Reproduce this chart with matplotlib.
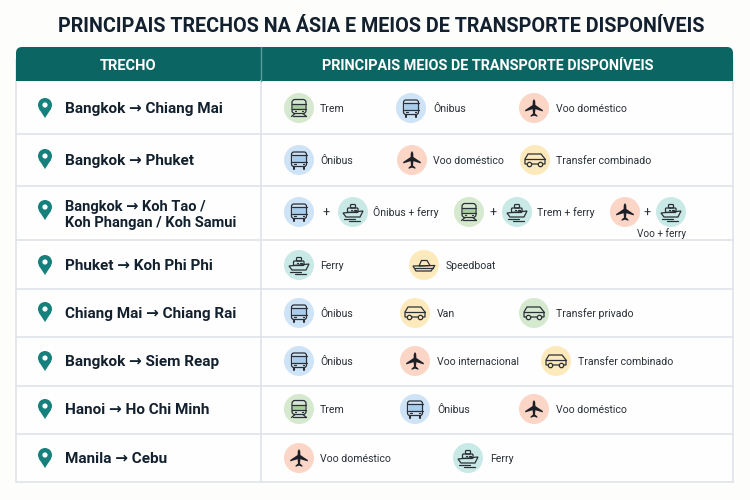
import matplotlib
matplotlib.use('Agg')
import matplotlib.pyplot as plt
from matplotlib.patches import Circle, FancyBboxPatch, Polygon, Rectangle, PathPatch
from matplotlib.path import Path

plt.rcParams['font.family'] = ['Roboto', 'DejaVu Sans']

title = 'PRINCIPAIS TRECHOS NA ÁSIA E MEIOS DE TRANSPORTE DISPONÍVEIS'
col_headers = ['TRECHO', 'PRINCIPAIS MEIOS DE TRANSPORTE DISPONÍVEIS']
routes = ['Bangkok → Chiang Mai', 'Bangkok → Phuket', 'Bangkok → Koh Tao /\nKoh Phangan / Koh Samui',
          'Phuket → Koh Phi Phi', 'Chiang Mai → Chiang Rai', 'Bangkok → Siem Reap',
          'Hanoi → Ho Chi Minh', 'Manila → Cebu']
row_modes = [['train', 'bus', 'plane'], ['bus', 'plane', 'van'], ['bus', 'ferry', 'train', 'ferry', 'plane', 'ferry'],
             ['ferry', 'boat'], ['bus', 'van', 'van_green'], ['bus', 'plane', 'van'],
             ['train', 'bus', 'plane'], ['plane', 'ferry']]
row_labels = [['Trem', 'Ônibus', 'Voo doméstico'], ['Ônibus', 'Voo doméstico', 'Transfer combinado'],
              ['Ônibus + ferry', 'Trem + ferry', 'Voo + ferry'], ['Ferry', 'Speedboat'],
              ['Ônibus', 'Van', 'Transfer privado'], ['Ônibus', 'Voo internacional', 'Transfer combinado'],
              ['Trem', 'Ônibus', 'Voo doméstico'], ['Voo doméstico', 'Ferry']]

# layout, in pixels of the 750x500 picture
row_edges = [81, 134, 186, 240, 289, 337, 386, 434, 482]
row_y = [108, 160, 212, 265, 313, 361, 409, 458]
pin_y = [108, 159, 210, 265, 312, 361, 409, 458]
icon_x = [[299, 411, 534], [299, 412, 535], [299, 353, 469, 517, 625, 671], [299, 424],
          [299, 415, 534], [299, 415, 556], [299, 415, 534], [299, 468]]
label_x = [[320, 433, 556], [320, 433, 556], [373, 537, 662], [320, 446],
           [320, 437, 556], [320, 437, 578], [320, 437, 556], [320, 490]]
plus_x = [326, 493, 647]

TEAL = '#0b6663'
INK = '#13202e'
LINE = '#dfe3e8'
ICON = '#2b3038'
bg = {'train': '#d5e9cf', 'bus': '#cfe3f6', 'plane': '#fbd5c6', 'ferry': '#c9e9e6',
      'boat': '#fdeabc', 'van': '#fdeabc', 'van_green': '#d5e9cf'}

fig = plt.figure(figsize=(7.5, 5), dpi=100, facecolor='#fdfdfc')
ax = fig.add_axes([0, 0, 1, 1])
ax.set_xlim(0, 750)
ax.set_ylim(500, 0)
ax.axis('off')


def box(x, y, w, h, r=1.5):
    ax.add_patch(FancyBboxPatch((x, y), w, h, boxstyle=f'round,pad=0,rounding_size={r}',
                                fc='none', ec=ICON, lw=0.9, zorder=4))


def seg(xs, ys, lw=0.9):
    ax.plot(xs, ys, color=ICON, lw=lw, zorder=4, solid_capstyle='round')


def outline(x, y, pts):
    ax.add_patch(Polygon([(x + a, y + b) for a, b in pts], closed=True, fc='none', ec=ICON, lw=0.9, zorder=4))


def draw_bus(x, y, fill):
    ax.add_patch(Rectangle((x - 6.5, y - 4.5), 13, 6, fc='#a9cdec', ec='none', zorder=3))
    box(x - 7.5, y - 8, 15, 14.5, 2.5)
    seg([x - 7.5, x + 7.5], [y + 1.5, y + 1.5])
    seg([x - 7.5, x + 7.5], [y - 5, y - 5])
    seg([x - 5, x - 5], [y + 6.5, y + 8.5], 1.5)
    seg([x + 5, x + 5], [y + 6.5, y + 8.5], 1.5)
    seg([x - 5, x - 3.5], [y + 4, y + 4])
    seg([x + 3.5, x + 5], [y + 4, y + 4])


def draw_train(x, y, fill):
    ax.add_patch(Rectangle((x - 6, y - 4), 12, 5, fc='#a8cf9c', ec='none', zorder=3))
    box(x - 7, y - 8.5, 14, 14, 3)
    seg([x - 7, x + 7], [y + 1, y + 1])
    seg([x - 7, x + 7], [y - 4.5, y - 4.5])
    seg([x - 4, x - 7.5], [y + 5.5, y + 8.5])
    seg([x + 4, x + 7.5], [y + 5.5, y + 8.5])
    seg([x - 6.5, x + 6.5], [y + 7.5, y + 7.5])
    seg([x - 4, x - 3], [y + 3.3, y + 3.3])
    seg([x + 3, x + 4], [y + 3.3, y + 3.3])


def draw_plane(x, y, fill):
    pts = [(0, -9), (1.2, -7), (1.4, -3), (8.8, 2), (8.8, 3.4), (1.4, 1.2), (1, 5.5), (3.4, 7.5), (3.4, 8.8),
           (0, 7.6), (-3.4, 8.8), (-3.4, 7.5), (-1, 5.5), (-1.4, 1.2), (-8.8, 3.4), (-8.8, 2), (-1.4, -3), (-1.2, -7)]
    ax.add_patch(Polygon([(x + a, y + b) for a, b in pts], closed=True, fc='#1c2026', ec='none', zorder=4))


def draw_ferry(x, y, fill):
    outline(x, y, [(-10, 1), (10, -1), (7, 5), (-7, 5)])
    box(x - 5.5, y - 4, 10.5, 4.5, 1)
    box(x - 2.5, y - 7.5, 5, 3.5, 1)
    seg([x - 2.5, x - 1.2], [y - 2, y - 2])
    seg([x + 1, x + 2.5], [y - 2, y - 2])
    seg([x - 9.5, x + 2], [y + 7, y + 7])
    seg([x - 4, x + 7], [y + 8.5, y + 8.5])


def draw_boat(x, y, fill):
    outline(x, y, [(-11, 1), (11, 0.5), (7, 6), (-8, 6)])
    outline(x, y, [(-5, 1), (-2.5, -4.5), (3, -4.5), (6, 0.5)])
    seg([x - 9, x + 8.5], [y + 3, y + 3])


def draw_van(x, y, fill):
    verts = [(-10, 4), (-10, -1), (-7, -6), (6, -6), (10, -1), (10, 4), (-10, 4)]
    codes = [Path.MOVETO] + [Path.LINETO] * 5 + [Path.CLOSEPOLY]
    ax.add_patch(PathPatch(Path([(x + a, y + b) for a, b in verts], codes), fc='none', ec=ICON, lw=0.9, zorder=4))
    seg([x - 10, x + 10], [y - 1, y - 1])
    for dx in (-5.5, 5.5):
        ax.add_patch(Circle((x + dx, y + 4.5), 2.2, fc=fill, ec=ICON, lw=0.9, zorder=5))


painters = {'train': draw_train, 'bus': draw_bus, 'plane': draw_plane, 'ferry': draw_ferry,
            'boat': draw_boat, 'van': draw_van, 'van_green': draw_van}


def draw_pin(x, y):
    ax.add_patch(Circle((x, y - 3), 7, fc='#15807c', ec='none', zorder=3))
    ax.add_patch(Polygon([(x - 6.2, y + 0.5), (x + 6.2, y + 0.5), (x, y + 10)], closed=True, fc='#15807c', ec='none', zorder=3))
    ax.add_patch(Circle((x, y - 3), 2.6, fc='white', ec='none', zorder=4))


# table frame and header
ax.add_patch(Rectangle((16, 60), 717, 422, fc='#fefefe', ec=LINE, lw=1.2, zorder=1))
ax.add_patch(FancyBboxPatch((16, 47), 717, 34, boxstyle='round,pad=0,rounding_size=6', fc=TEAL, ec='none', zorder=2))
ax.add_patch(Rectangle((16, 60), 717, 21, fc=TEAL, ec='none', zorder=2))
ax.plot([260.5, 260.5], [47, 81], color='#5e9c99', lw=1, zorder=3)
ax.plot([260.5, 260.5], [81, 482], color=LINE, lw=1.2, zorder=2)
for edge in row_edges[1:-1]:
    ax.plot([16, 733], [edge, edge], color=LINE, lw=1.2, zorder=2)

ax.text(381, 32, title, fontsize=14.2, fontweight='bold', color=INK, ha='center', va='baseline')
ax.text(128, 70, col_headers[0], fontsize=10.5, fontweight='bold', color='white', ha='center', va='baseline', zorder=5)
ax.text(488, 70, col_headers[1], fontsize=10.4, fontweight='bold', color='white', ha='center', va='baseline', zorder=5)

for i, route in enumerate(routes):
    y = row_y[i]
    draw_pin(45, pin_y[i])
    # the two-line route is set a little tighter in the reference
    if '\n' in route:
        ax.text(65, y + 3, route, fontsize=10.5, fontweight='bold', color=INK, va='center', ha='left',
                linespacing=1.2, zorder=5)
    else:
        ax.text(65, y + 5, route, fontsize=11, fontweight='bold', color=INK, va='baseline', ha='left', zorder=5)
    for mode, x in zip(row_modes[i], icon_x[i]):
        ax.add_patch(Circle((x, y), 15, fc=bg[mode], ec='none', zorder=2))
        painters[mode](x, y, bg[mode])
    for j, (label, x) in enumerate(zip(row_labels[i], label_x[i])):
        if label == 'Voo + ferry':
            ax.text(x, y + 25, label, fontsize=7.2, color='#2a3038', va='baseline', ha='center')
        else:
            ax.text(x, y + 4, label, fontsize=7.6, color='#2a3038', va='baseline', ha='left')

for x in plus_x:
    ax.text(x, row_y[2] + 1, '+', fontsize=9, color='#2a3038', va='center', ha='center')

fig.savefig('out.png', dpi=100, facecolor=fig.get_facecolor())
